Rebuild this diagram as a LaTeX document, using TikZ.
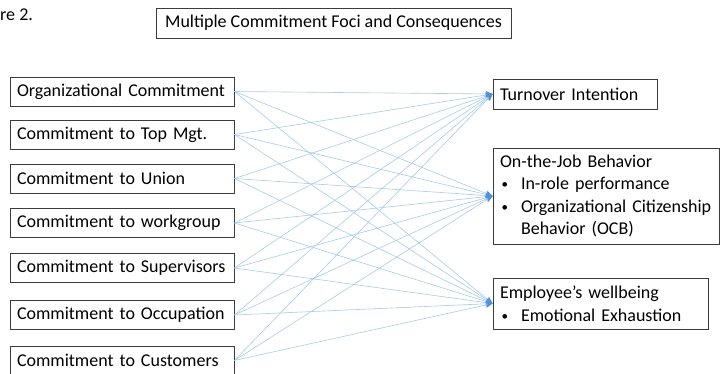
\documentclass[tikz,border=0pt]{standalone}
\usepackage{fontspec}
\setmainfont{Carlito}
\usetikzlibrary{arrows.meta}
\definecolor{linec}{RGB}{168,202,236}
\definecolor{tipc}{RGB}{80,145,212}
\definecolor{boxc}{RGB}{60,60,60}
\newcommand{\bul}{\makebox[21pt][l]{\hspace*{1.5pt}\raisebox{1pt}{\fontsize{13}{13}\selectfont\textbullet}}}
\begin{document}
\begin{tikzpicture}[x=1pt,y=-1pt,
  box/.style={draw=boxc,line width=0.9pt,inner xsep=7pt,inner ysep=0pt,
    font=\fontsize{18}{22.5}\selectfont,text=black},
  lbox/.style={box,minimum height=29pt,text width=210pt,align=left},
  rbox/.style={box,align=left},
  conn/.style={draw=linec,line width=0.6pt,-{Stealth[length=7pt,width=6pt,color=tipc]}}]
\useasboundingbox (0,0) rectangle (720,374);
\node[anchor=west,inner sep=0pt,font=\fontsize{18}{22.5}\selectfont] (fig) at (0,15) {re 2.};
\node[box,minimum width=355pt,minimum height=30pt] (title) at (333.5,23) {Multiple Commitment Foci and Consequences};
\node[lbox] (s1) at (122,91.5) {\mbox{Organizational Commitment}};
\node[lbox] (s2) at (122,134.5) {\mbox{Commitment to Top Mgt.}};
\node[lbox] (s3) at (122,178.5) {\mbox{Commitment to Union}};
\node[lbox] (s4) at (122,223) {\mbox{Commitment to workgroup}};
\node[lbox] (s5) at (122,268) {\mbox{Commitment to Supervisors}};
\node[lbox] (s6) at (122,315) {\mbox{Commitment to Occupation}};
\node[lbox] (s7) at (122,360.5) {\mbox{Commitment to Customers}};
\node[rbox,minimum height=30pt,text width=150pt] (t1) at (575,94) {\mbox{Turnover Intention}};
\node[rbox,minimum height=96pt,text width=212pt] (t2) at (606,196) {\mbox{On-the-Job Behavior}\\\mbox{\bul In-role performance}\\\mbox{\bul Organizational Citizenship}\\\mbox{\hspace*{21pt}Behavior (OCB)}};
\node[rbox,minimum height=51pt,text width=201pt] (t3) at (600.5,303.5) {\mbox{Employee’s wellbeing}\\\mbox{\bul Emotional Exhaustion}};
\foreach \s in {s1,s2,s3,s4,s5,s6,s7}{
  \foreach \t in {t1,t2,t3}{
    \draw[conn] (\s.east) -- (\t.west);
  }
}
\end{tikzpicture}
\end{document}
